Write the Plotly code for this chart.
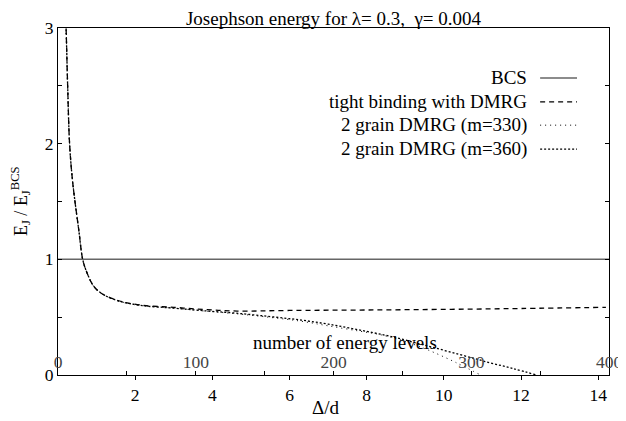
import plotly.graph_objects as go

# ---- data ----
delta_tb = [0.18, 0.21, 0.25, 0.30, 0.37, 0.44, 0.54, 0.64, 0.75, 0.92, 1.13, 1.52, 2.13,
            3.0, 3.86, 4.64, 6.0, 8.0, 10.2, 12.0, 14.2]
ej_tb = [3.3, 3.0, 2.5, 2.0, 1.7, 1.5, 1.25, 1.0, 0.885, 0.77, 0.705, 0.648, 0.605,
         0.585, 0.565, 0.553, 0.558, 0.562, 0.568, 0.575, 0.585]

delta_360 = [0.18, 0.21, 0.25, 0.30, 0.37, 0.44, 0.54, 0.64, 0.75, 0.92, 1.13, 1.52, 2.13,
             3.0, 3.8, 4.6, 5.5, 6.3, 7.0, 7.8, 8.6, 9.5, 10.4, 11.15, 11.8, 12.4]
ej_360 = [3.3, 3.0, 2.5, 2.0, 1.7, 1.5, 1.25, 1.0, 0.885, 0.77, 0.705, 0.645, 0.602,
          0.578, 0.555, 0.535, 0.505, 0.475, 0.44, 0.39, 0.335, 0.258, 0.178, 0.11, 0.055, 0.0]

delta_330 = [0.18, 0.21, 0.25, 0.30, 0.37, 0.44, 0.54, 0.64, 0.75, 0.92, 1.13, 1.52, 2.13,
             3.0, 3.8, 4.6, 5.5, 6.3, 7.0, 7.8, 8.4, 9.0, 9.6, 10.3, 10.95]
ej_330 = [3.3, 3.0, 2.5, 2.0, 1.7, 1.5, 1.25, 1.0, 0.885, 0.77, 0.705, 0.645, 0.602,
          0.578, 0.553, 0.53, 0.498, 0.465, 0.425, 0.38, 0.345, 0.29, 0.215, 0.11, 0.0]

bcs_delta = [0.0, 14.28]
bcs_ej = [1.0, 1.0]

x_tick_vals = [2, 4, 6, 8, 10, 12, 14]
level_tick_vals = [0, 100, 200, 300, 400]
y_tick_vals = [0, 1, 2, 3]

series_names = ["BCS", "tight binding with DMRG", "2 grain DMRG (m=330)", "2 grain DMRG (m=360)"]

FONT = "Liberation Serif"
styles = [
    dict(color="#666666", width=1.5, dash="solid"),
    dict(color="black", width=1.3, dash="5px,4px"),
    dict(color="black", width=1.0, dash="1px,4px"),
    dict(color="black", width=1.3, dash="2px,2px"),
]

fig = go.Figure()
data_sets = [(bcs_delta, bcs_ej), (delta_tb, ej_tb), (delta_330, ej_330), (delta_360, ej_360)]
for (xs, ys), name, st in zip(data_sets, series_names, styles):
    fig.add_trace(go.Scatter(x=xs, y=ys, mode="lines", name=name, line=st,
                             showlegend=False, line_shape="spline"))

# invisible trace on the secondary (number of levels) axis
fig.add_trace(go.Scatter(x=[level_tick_vals[0], level_tick_vals[-1]], y=[None, None],
                         xaxis="x2", mode="lines", showlegend=False, hoverinfo="skip"))

# custom legend: text right-aligned, sample to the right
leg_rows = [0.856, 0.787, 0.72, 0.651]
for name, st, yy in zip(series_names, styles, leg_rows):
    fig.add_annotation(x=0.855, y=yy, xref="paper", yref="paper", text=name,
                       showarrow=False, xanchor="right", yanchor="middle",
                       font=dict(family=FONT, size=19, color="black"))
    fig.add_shape(type="line", xref="paper", yref="paper", x0=0.875, x1=0.942,
                  y0=yy, y1=yy, line=st)

fig.add_annotation(x=0.52, y=0.095, xref="paper", yref="paper",
                   text="number of energy levels", showarrow=False,
                   xanchor="center", yanchor="middle",
                   font=dict(family=FONT, size=19, color="black"))
fig.add_annotation(x=0.486, y=-0.093, xref="paper", yref="paper",
                   text="Δ/d", showarrow=False, xanchor="center", yanchor="middle",
                   font=dict(family=FONT, size=19, color="black"))
fig.add_annotation(x=-0.068, y=0.5, xref="paper", yref="paper",
                   text="E<sub>J</sub> / E<sub>J</sub><sup>BCS</sup>", showarrow=False,
                   textangle=-90, xanchor="center", yanchor="middle",
                   font=dict(family=FONT, size=18, color="black"))

# the page body adds an 8px offset, so the figure is sized to fit the window
fig.update_layout(
    width=618, height=413,
    margin=dict(l=50, r=17, t=20, b=46, autoexpand=False),
    paper_bgcolor="white", plot_bgcolor="white",
    font=dict(family=FONT, size=18, color="black"),
    title=dict(text="Josephson energy for λ= 0.3,  γ= 0.004", x=0.5, xref="paper",
               xanchor="center", y=0.99, yref="container", yanchor="top",
               pad=dict(t=0, b=0), font=dict(family=FONT, size=19)),
    xaxis=dict(range=[0, 14.28], tickvals=x_tick_vals, ticks="outside", ticklen=4,
               tickcolor="black", showline=True, linecolor="black", linewidth=1,
               mirror=True, showgrid=False, zeroline=False, automargin=False,
               tickfont=dict(family=FONT, size=17.5)),
    xaxis2=dict(range=[0, 400], overlaying="x", anchor="y", side="bottom",
                tickvals=level_tick_vals, ticks="inside", ticklen=4, tickcolor="black",
                ticklabelposition="inside", ticklabeloverflow="allow",
                minor=dict(dtick=50, ticks="inside", ticklen=4, tickcolor="black"),
                showline=False, showgrid=False, zeroline=False, automargin=False,
                tickfont=dict(family=FONT, size=17.5)),
    yaxis=dict(range=[0, 3], tickvals=y_tick_vals, ticks="inside", ticklen=4,
               tickcolor="black", showline=True, linecolor="black", linewidth=1,
               mirror="allticks", showgrid=False, zeroline=False, automargin=False,
               minor=dict(dtick=0.5, ticks="inside", ticklen=4, tickcolor="black"),
               tickfont=dict(family=FONT, size=17.5)),
)

fig.write_html("out.html")
